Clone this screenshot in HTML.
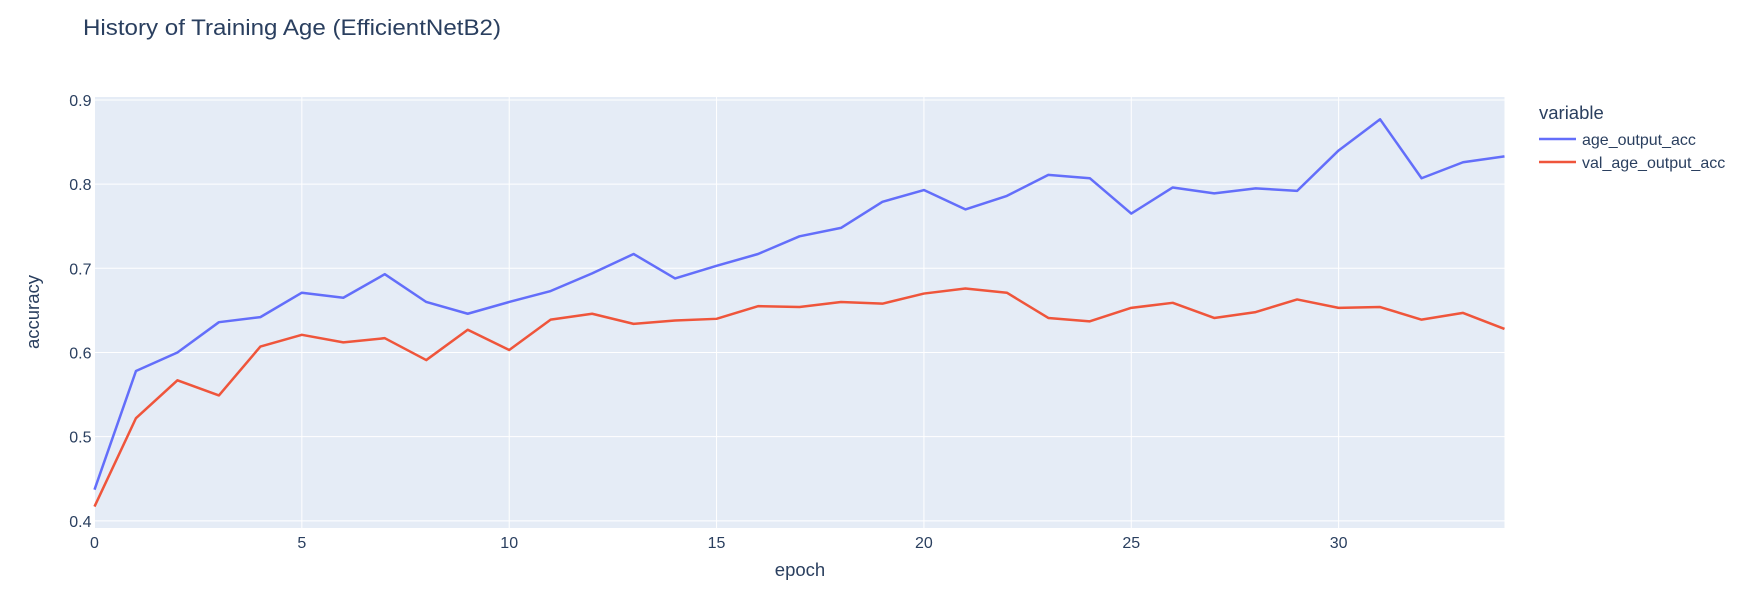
<!DOCTYPE html>
<html><head><meta charset="utf-8">
<style>
html,body{margin:0;padding:0;background:#fff;}
svg{display:block;font-family:"Liberation Sans",sans-serif;}
</style></head>
<body>
<svg id="chart" width="1758" height="597" xmlns="http://www.w3.org/2000/svg">
<text x="83" y="35" font-size="22.5" fill="#2a3f5f" textLength="418" lengthAdjust="spacingAndGlyphs">History of Training Age (EfficientNetB2)</text>
<rect x="94.5" y="97" width="1410" height="431" fill="#e5ecf6"/>
<g id="grid"></g>
<g id="ticks"></g>
<g id="lines"></g>
<text x="39" y="312" font-size="18.5" fill="#2a3f5f" text-anchor="middle" transform="rotate(-90 39 312)">accuracy</text>
<text x="800" y="576" font-size="18.5" fill="#2a3f5f" text-anchor="middle">epoch</text>
<g>
<text x="1539" y="119" font-size="18.5" fill="#2a3f5f">variable</text>
<g>
<line x1="1539" y1="139" x2="1576" y2="139" stroke="#636efa" stroke-width="2.5"/>
<text x="1582" y="145" font-size="16" fill="#2a3f5f">age_output_acc</text></g>
<g>
<line x1="1539" y1="162" x2="1576" y2="162" stroke="#ef553b" stroke-width="2.5"/>
<text x="1582" y="168" font-size="16" fill="#2a3f5f">val_age_output_acc</text></g>
</g>
</svg>
<script>
const epochs = Array.from({length:35},(_,i)=>i);
const trainAcc = [0.437,0.578,0.600,0.636,0.642,0.671,0.665,0.693,0.660,0.646,0.660,0.673,0.694,0.717,0.688,0.703,0.717,0.738,0.748,0.779,0.793,0.770,0.786,0.811,0.807,0.765,0.796,0.789,0.795,0.792,0.840,0.877,0.807,0.826,0.833];
const valAcc = [0.417,0.522,0.567,0.549,0.607,0.621,0.612,0.617,0.591,0.627,0.603,0.639,0.646,0.634,0.638,0.640,0.655,0.654,0.660,0.658,0.670,0.676,0.671,0.641,0.637,0.653,0.659,0.641,0.648,0.663,0.653,0.654,0.639,0.647,0.628];
const xTicks = [0,5,10,15,20,25,30];
const yTicks = [0.4,0.5,0.6,0.7,0.8,0.9];

const NS="http://www.w3.org/2000/svg";
const L=94.5,R=1504.5,T=97,B=528;
const xMin=0,xMax=34,yMin=0.3915,yMax=0.9035;
function xs(v){return L+(v-xMin)/(xMax-xMin)*(R-L);}
function ys(v){return B-(v-yMin)/(yMax-yMin)*(B-T);}
function mk(tag,attrs,parent){const e=document.createElementNS(NS,tag);for(const k in attrs)e.setAttribute(k,attrs[k]);parent.appendChild(e);return e;}
const grid=document.getElementById('grid'),ticks=document.getElementById('ticks'),lines=document.getElementById('lines');
xTicks.forEach(t=>{
  const g=mk('line',{x1:xs(t),x2:xs(t),y1:T,y2:B,stroke:'#fff','stroke-width':1},grid);
  
  
  const lb=mk('text',{x:xs(t),y:B+20,'font-size':16,fill:'#2a3f5f','text-anchor':'middle'},ticks);
  lb.textContent=t;
  
  
});
yTicks.forEach(t=>{
  const g=mk('line',{x1:L,x2:R,y1:ys(t),y2:ys(t),stroke:'#fff','stroke-width':1},grid);
  
  
  const lb=mk('text',{x:L-3,y:ys(t)+6,'font-size':16,fill:'#2a3f5f','text-anchor':'end'},ticks);
  lb.textContent=t.toFixed(1);
  
  
});
function drawLine(vals,color,name){
  const p=mk('polyline',{points:vals.map((v,i)=>xs(epochs[i])+','+ys(v)).join(' '),fill:'none',stroke:color,'stroke-width':2.5,'stroke-linejoin':'round'},lines);
  
  
}
drawLine(trainAcc,'#636efa','age-output-acc-line');
drawLine(valAcc,'#ef553b','val-age-output-acc-line');
</script>
</body></html>
